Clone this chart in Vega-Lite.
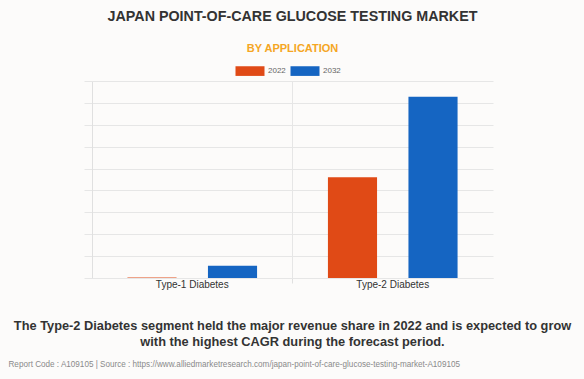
{
  "$schema": "https://vega.github.io/schema/vega-lite/v6.json",
  "width": 401,
  "height": 197,
  "autosize": {"type": "none"},
  "padding": {"left": 92, "top": 81, "right": 91, "bottom": 101},
  "background": "#fcfbfa",
  "title": {
    "text": "JAPAN POINT-OF-CARE GLUCOSE TESTING MARKET",
    "subtitle": "BY APPLICATION",
    "anchor": "middle",
    "font": "Liberation Sans",
    "fontSize": 14.3,
    "fontWeight": "bold",
    "color": "#333333",
    "subtitleFont": "Liberation Sans",
    "subtitleFontSize": 11,
    "subtitleFontWeight": "bold",
    "subtitleColor": "#F5A623",
    "subtitlePadding": 19,
    "offset": 7
  },
  "data": {
    "values": [
      {"segment": "Type-1 Diabetes", "year": "2022", "value": 0.2},
      {"segment": "Type-1 Diabetes", "year": "2032", "value": 5.6},
      {"segment": "Type-2 Diabetes", "year": "2022", "value": 46.0},
      {"segment": "Type-2 Diabetes", "year": "2032", "value": 82.8}
    ]
  },
  "layer": [
    {
      "mark": {"type": "bar", "opacity": 0},
      "encoding": {
        "x": {
          "field": "segment",
          "type": "nominal",
          "scale": {"paddingInner": 0, "paddingOuter": 0},
          "axis": {
            "orient": "bottom",
            "values": ["Type-2 Diabetes"],
            "bandPosition": 0,
            "labels": false,
            "grid": true,
            "gridColor": "#e6e6e6",
            "ticks": true,
            "tickSize": 5,
            "tickColor": "#e0e0e0",
            "domain": false,
            "title": null
          }
        }
      }
    },
    {
      "mark": {"type": "bar"},
      "encoding": {
        "x": {
          "field": "segment",
          "type": "nominal",
          "scale": {"paddingInner": 0, "paddingOuter": 0},
          "axis": {
            "orient": "bottom",
            "labelAngle": 0,
            "labelFont": "Liberation Sans",
            "labelFontSize": 10,
            "labelColor": "#333333",
            "labelPadding": 1,
            "ticks": false,
            "tickSize": 5,
            "grid": false,
            "domain": true,
            "domainColor": "#e6e6e6",
            "title": ["The Type-2 Diabetes segment held the major revenue share in 2022 and is expected to grow", "with the highest CAGR during the forecast period."],
            "titleFont": "Liberation Sans",
            "titleFontSize": 12.8,
            "titleFontWeight": "bold",
            "titleColor": "#333333",
            "titleLineHeight": 16,
            "titleX": 200,
            "titleY": 51,
            "titleAlign": "center",
            "titleBaseline": "alphabetic"
          }
        },
        "xOffset": {
          "field": "year",
          "type": "nominal",
          "scale": {"paddingInner": 0.39, "paddingOuter": 0.44}
        },
        "y": {
          "field": "value",
          "type": "quantitative",
          "scale": {"domain": [0, 90], "nice": false},
          "axis": {
            "values": [0, 10, 20, 30, 40, 50, 60, 70, 80, 90],
            "labels": false,
            "ticks": true,
            "tickSize": 8,
            "tickColor": "#e6e6e6",
            "grid": true,
            "gridColor": "#e6e6e6",
            "domain": true,
            "domainColor": "#e0e0e0",
            "title": "Report Code : A109105  |  Source : https://www.alliedmarketresearch.com/japan-point-of-care-glucose-testing-market-A109105",
            "titleAngle": 0,
            "titleX": -84,
            "titleY": 285,
            "titleAlign": "left",
            "titleBaseline": "alphabetic",
            "titleFont": "Liberation Sans",
            "titleFontSize": 8.15,
            "titleFontWeight": "normal",
            "titleColor": "#8a8a8a"
          }
        },
        "color": {
          "field": "year",
          "type": "nominal",
          "scale": {"domain": ["2022", "2032"], "range": ["#E04A16", "#1565C2"]},
          "legend": {
            "orient": "none",
            "direction": "horizontal",
            "legendX": 148,
            "legendY": -20,
            "title": null,
            "symbolType": "M-1.5,-0.5H1.5V0.5H-1.5Z",
            "symbolSize": 374,
            "symbolStrokeWidth": 0,
            "symbolOpacity": 1,
            "labelFont": "Liberation Sans",
            "labelFontSize": 8,
            "labelColor": "#666666",
            "labelOffset": 8,
            "columnPadding": 4,
            "padding": 0
          }
        }
      }
    }
  ],
  "resolve": {"axis": {"x": "independent"}},
  "config": {
    "view": {"stroke": null},
    "axis": {"labelFont": "Liberation Sans"}
  }
}
